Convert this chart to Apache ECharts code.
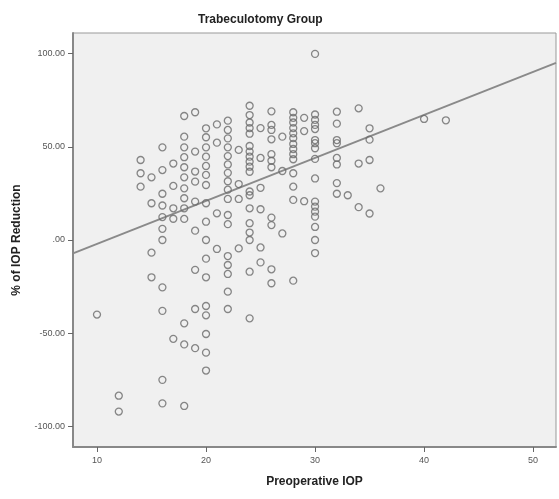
<!DOCTYPE html>
<html>
<head>
<meta charset="utf-8">
<script src="https://cdn.jsdelivr.net/npm/echarts@6.0.0/dist/echarts.min.js"></script>
<style>
html,body{margin:0;padding:0;background:#fff;}
#chart{width:559px;height:499px;}
</style>
</head>
<body>
<div id="chart"></div>
<script>
// Preoperative IOP (x) and % of IOP reduction (y)
const iop = [
  10,
  12,12,
  14,14,14,
  15,15,15,15,
  16,16,16,16,16,16,16,16,16,16,16,
  17,17,17,17,17,
  18,18,18,18,18,18,18,18,18,18,18,18,18,
  19,19,19,19,19,19,19,19,19,
  20,20,20,20,20,20,20,20,20,20,20,20,20,20,20,20,20,
  21,21,21,21,
  22,22,22,22,22,22,22,22,22,22,22,22,22,22,22,22,22,
  23,23,23,23,
  24,24,24,24,24,24,24,24,24,24,24,24,24,24,24,24,24,24,24,
  25,25,25,25,25,25,
  26,26,26,26,26,26,26,26,26,26,26,
  27,27,27,
  28,28,28,28,28,28,28,28,28,28,28,28,28,28,
  29,29,29,
  30,30,30,30,30,30,30,30,30,30,30,30,30,30,30,30,30,
  32,32,32,32,32,32,32,32,
  33,
  34,34,34,
  35,35,35,35,
  36,
  40,
  42
];
const reduction = [
  -40,
  -83.5,-92,
  42.9,35.8,28.6,
  33.6,19.7,-6.8,-20,
  49.7,37.5,24.8,18.5,12.3,6,0,-25.4,-38,-75,-87.6,
  41,29,17,11.4,-53,
  66.5,55.4,49.7,44.4,39,33.6,27.7,22.4,17,11.3,-44.7,-56,-89,
  68.5,47.4,36.7,31.3,20.6,5,-16,-37,-58,
  59.9,55.1,49.7,44.7,39.7,34.9,29.5,19.7,9.8,0,-10,-20,-35.4,-40.4,-50.4,-60.4,-70,
  62,52.2,14.3,-4.8,
  64,59,54.5,49.7,45,40.5,36,31.5,27,22,13.4,8.5,-8.6,-13.4,-18.2,-27.7,-37,
  48.3,30,22,-4.5,
  72,67,63,60,57,50.4,47.4,44.7,42,39.3,36.6,26,24,17,9,4,0,-17,-42,
  60,44,28,16.5,-4,-12,
  69,61.7,59,54,46,42.5,39,12,8,-15.7,-23.2,
  55.4,37,3.5,
  68.5,65.5,63,60,57.2,54.6,51.5,48.8,46,43.3,35.8,28.6,21.5,-21.8,
  65.5,58.4,20.8,
  99.8,67.3,64.4,61.7,59.5,53.6,51.9,49.2,43.5,33,20.6,17.9,15.2,12.5,7,0,-7,
  68.8,62.4,53.6,51.9,44,40.5,30.5,24.8,
  24,
  70.6,41,17.6,
  59.9,53.8,42.9,14.2,
  27.7,
  64.9,
  64.2
];
// fit line end points
const fitX = [7.8, 52.1];
const fitY = [-7.2, 95];
// tick labels
const xTicks = [10, 20, 30, 40, 50];
const yTicks = [-100, -50, 0, 50, 100];

const points = iop.map((x, i) => [x, reduction[i]]);
const fitLine = fitX.map((x, i) => [x, fitY[i]]);

const chart = echarts.init(document.getElementById('chart'), null, {renderer: 'canvas'});
const font = 'Liberation Sans, Arial, sans-serif';
chart.setOption({
  animation: false,
  backgroundColor: '#ffffff',
  title: {
    text: 'Trabeculotomy Group',
    left: 193, top: 9,
    textStyle: {fontFamily: font, fontSize: 12, fontWeight: 'bold', color: '#222'}
  },
  grid: {
    left: 73, right: 3, top: 33, bottom: 52,
    show: true, backgroundColor: '#f0f0f0', borderColor: '#999', borderWidth: 1
  },
  xAxis: {
    type: 'value', min: 7.8, max: 52.1,
    name: 'Preoperative IOP', nameLocation: 'middle', nameGap: 29,
    nameTextStyle: {fontFamily: font, fontSize: 12, fontWeight: 'bold', color: '#222'},
    axisLine: {show: true, onZero: false, lineStyle: {color: '#888', width: 2}},
    axisTick: {show: true, length: 5, customValues: xTicks, lineStyle: {color: '#666'}},
    axisLabel: {customValues: xTicks, margin: 9, fontFamily: font, fontSize: 9, color: '#555'},
    splitLine: {show: false}
  },
  yAxis: {
    type: 'value', min: -111, max: 111,
    name: '% of IOP Reduction', nameLocation: 'middle', nameGap: 50,
    nameTextStyle: {fontFamily: font, fontSize: 12, fontWeight: 'bold', color: '#222'},
    axisLine: {show: true, onZero: false, lineStyle: {color: '#888', width: 2}},
    axisTick: {show: true, length: 5, customValues: yTicks, lineStyle: {color: '#666'}},
    axisLabel: {
      customValues: yTicks, margin: 8, fontFamily: font, fontSize: 9, color: '#555',
      formatter: v => v === 0 ? '.00' : v.toFixed(2)
    },
    splitLine: {show: false}
  },
  series: [
    {
      type: 'scatter',
      data: points,
      symbol: 'circle',
      symbolSize: 7,
      itemStyle: {color: 'rgba(0,0,0,0)', borderColor: '#6a6a6a', borderWidth: 1.3},
      z: 3
    },
    {
      type: 'line',
      data: fitLine,
      symbol: 'none',
      lineStyle: {color: '#8a8a8a', width: 2},
      z: 2
    }
  ]
});
</script>
</body>
</html>
